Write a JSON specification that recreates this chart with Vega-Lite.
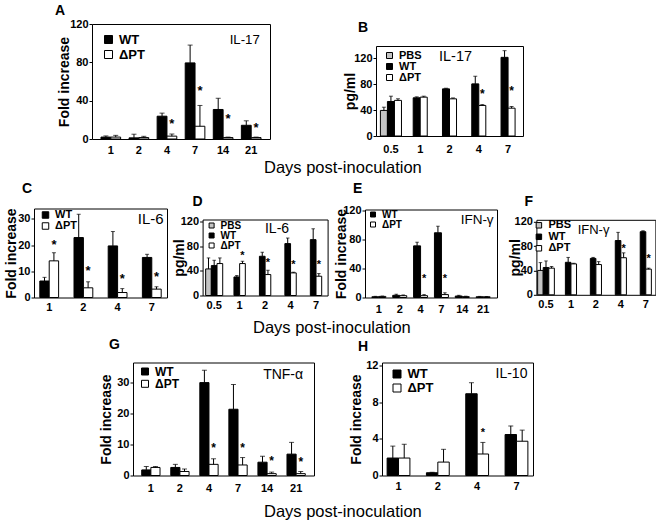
{
 "$schema": "https://vega.github.io/schema/vega-lite/v6.json",
 "padding": {"left": 3, "top": 3, "right": 0, "bottom": 0},
 "background": "white",
 "config": {
  "font": "Liberation Sans",
  "view": {"stroke": "black", "strokeWidth": 1},
  "axis": {"grid": false, "domain": false, "tickColor": "black", "labelColor": "black", "labelFont": "Liberation Sans", "labelFontWeight": "bold", "labelFontSize": 11, "titleFont": "Liberation Sans", "titleFontWeight": "bold", "titleFontSize": 14, "titleColor": "black", "tickSize": 3, "labelPadding": 1},
  "title": {"font": "Liberation Sans", "fontSize": 14, "fontWeight": "bold", "color": "black", "anchor": "start", "frame": "group"},
  "legend": {"title": null, "orient": "top-left", "padding": 0, "symbolType": "square", "symbolStrokeColor": "black", "symbolStrokeWidth": 1, "labelFont": "Liberation Sans", "labelFontWeight": "bold", "labelColor": "black", "labelOffset": 4},
  "text": {"font": "Liberation Sans", "color": "black"}
 },
 "datasets": {
  "dA": [
   {"day":"1","group":"WT","value":2,"err":3.2},
   {"day":"1","group":"ΔPT","value":2,"err":3.8},
   {"day":"2","group":"WT","value":1.2,"err":5},
   {"day":"2","group":"ΔPT","value":1.5,"err":2.8},
   {"day":"4","group":"WT","value":23.8,"err":27},
   {"day":"4","group":"ΔPT","value":3,"err":5.2,"star":19},
   {"day":"7","group":"WT","value":79.4,"err":98},
   {"day":"7","group":"ΔPT","value":13.3,"err":35,"star":53},
   {"day":"14","group":"WT","value":30.8,"err":42.5},
   {"day":"14","group":"ΔPT","value":1.5,"err":2,"star":24.5},
   {"day":"21","group":"WT","value":14.3,"err":19},
   {"day":"21","group":"ΔPT","value":1.5,"err":2,"star":14.5}
  ],
  "dB": [
   {"day":"0.5","group":"PBS","value":39.5,"err":44.5},
   {"day":"0.5","group":"WT","value":53.3,"err":61.5},
   {"day":"0.5","group":"ΔPT","value":55,"err":57.5},
   {"day":"1","group":"WT","value":59,"err":60.5},
   {"day":"1","group":"ΔPT","value":60,"err":61.5},
   {"day":"2","group":"WT","value":72.8,"err":73.8},
   {"day":"2","group":"ΔPT","value":57.4,"err":58.8},
   {"day":"4","group":"WT","value":80.5,"err":92.3},
   {"day":"4","group":"ΔPT","value":47.2,"err":48.5,"star":70},
   {"day":"7","group":"WT","value":121.5,"err":131.8},
   {"day":"7","group":"ΔPT","value":43,"err":45.6,"star":74}
  ],
  "dC": [
   {"day":"1","group":"WT","value":6.3,"err":7.7},
   {"day":"1","group":"ΔPT","value":14,"err":17.1,"star":21.3},
   {"day":"2","group":"WT","value":22.9,"err":31.8},
   {"day":"2","group":"ΔPT","value":3.7,"err":6,"star":11.1},
   {"day":"4","group":"WT","value":19.7,"err":25.2},
   {"day":"4","group":"ΔPT","value":1.9,"err":3.4,"star":8.3},
   {"day":"7","group":"WT","value":15.3,"err":16.5},
   {"day":"7","group":"ΔPT","value":3.2,"err":4.1,"star":8.8}
  ],
  "dD": [
   {"day":"0.5","group":"PBS","value":43,"err":60.8},
   {"day":"0.5","group":"WT","value":48.4,"err":57},
   {"day":"0.5","group":"ΔPT","value":51.7,"err":60.8},
   {"day":"1","group":"WT","value":30,"err":32.3},
   {"day":"1","group":"ΔPT","value":51.7,"err":55.4,"star":69},
   {"day":"2","group":"WT","value":63.5,"err":70},
   {"day":"2","group":"ΔPT","value":33.9,"err":40.9,"star":58},
   {"day":"4","group":"WT","value":84,"err":93},
   {"day":"4","group":"ΔPT","value":36.6,"err":37.7,"star":55},
   {"day":"7","group":"WT","value":90.4,"err":108},
   {"day":"7","group":"ΔPT","value":31.2,"err":35.5,"star":54}
  ],
  "dE": [
   {"day":"1","group":"WT","value":1,"err":1.6},
   {"day":"1","group":"ΔPT","value":1.5,"err":2},
   {"day":"2","group":"WT","value":3,"err":4.5},
   {"day":"2","group":"ΔPT","value":2.5,"err":3.5},
   {"day":"4","group":"WT","value":71,"err":76},
   {"day":"4","group":"ΔPT","value":2.5,"err":4,"star":30},
   {"day":"7","group":"WT","value":89,"err":98},
   {"day":"7","group":"ΔPT","value":4,"err":6.5,"star":30},
   {"day":"14","group":"WT","value":2,"err":3},
   {"day":"14","group":"ΔPT","value":1.2,"err":1.8},
   {"day":"21","group":"WT","value":1,"err":1.5},
   {"day":"21","group":"ΔPT","value":1,"err":1.4}
  ],
  "dF": [
   {"day":"0.5","group":"PBS","value":40,"err":52.8},
   {"day":"0.5","group":"WT","value":44.8,"err":55.5},
   {"day":"0.5","group":"ΔPT","value":43.7,"err":46.4},
   {"day":"1","group":"WT","value":53.3,"err":61.3},
   {"day":"1","group":"ΔPT","value":50.7,"err":51.7},
   {"day":"2","group":"WT","value":59.7,"err":61.3},
   {"day":"2","group":"ΔPT","value":49.6,"err":54.4},
   {"day":"4","group":"WT","value":89,"err":102.4},
   {"day":"4","group":"ΔPT","value":60.8,"err":68.8,"star":80.5},
   {"day":"7","group":"WT","value":103.5,"err":105},
   {"day":"7","group":"ΔPT","value":42.1,"err":43.7,"star":63.5}
  ],
  "dG": [
   {"day":"1","group":"WT","value":1.8,"err":2.9},
   {"day":"1","group":"ΔPT","value":2.6,"err":2.9},
   {"day":"2","group":"WT","value":2.6,"err":3.6},
   {"day":"2","group":"ΔPT","value":1.3,"err":2.1},
   {"day":"4","group":"WT","value":30,"err":34},
   {"day":"4","group":"ΔPT","value":3.6,"err":5.4,"star":9.9},
   {"day":"7","group":"WT","value":21.4,"err":29.4},
   {"day":"7","group":"ΔPT","value":3.4,"err":5.8,"star":9.9},
   {"day":"14","group":"WT","value":4.3,"err":6.2},
   {"day":"14","group":"ΔPT","value":0.6,"err":1.1,"star":5.6},
   {"day":"21","group":"WT","value":6.9,"err":10.7},
   {"day":"21","group":"ΔPT","value":0.6,"err":1.3,"star":5.4}
  ],
  "dH": [
   {"day":"1","group":"WT","value":1.9,"err":3.2},
   {"day":"1","group":"ΔPT","value":1.9,"err":3.4},
   {"day":"2","group":"WT","value":0.3,"err":0.35},
   {"day":"2","group":"ΔPT","value":1.46,"err":2.85},
   {"day":"4","group":"WT","value":8.9,"err":10.1},
   {"day":"4","group":"ΔPT","value":2.34,"err":3.6,"star":4.9},
   {"day":"7","group":"WT","value":4.46,"err":5.4},
   {"day":"7","group":"ΔPT","value":3.73,"err":4.94}
  ]
 },
 "resolve": {"scale": {"fill": "independent", "xOffset": "independent", "x": "independent", "y": "independent"}, "legend": {"fill": "independent"}},
 "spacing": -0.5,
 "vconcat": [
  {
   "spacing": 4.5,
   "resolve": {"scale": {"fill": "independent", "xOffset": "independent", "x": "independent", "y": "independent"}, "legend": {"fill": "independent"}},
   "vconcat": [
    {
     "spacing": 0,
     "resolve": {"scale": {"fill": "independent", "xOffset": "independent", "x": "independent", "y": "independent"}, "legend": {"fill": "independent"}},
     "title": {"text": "Days post-inoculation", "orient": "bottom", "anchor": "start", "dx": 230, "offset": 4, "fontSize": 16.5, "fontWeight": "normal"},
     "hconcat": [
      {"width": 20, "height": 1, "data": {"values": [{"s": 0}]}, "mark": {"type": "point", "opacity": 0}, "encoding": {}, "view": {"stroke": null}},
      {
       "spacing": 71,
       "resolve": {"scale": {"fill": "independent", "xOffset": "independent", "x": "independent", "y": "independent"}, "legend": {"fill": "independent"}},
       "hconcat": [
        {
         "title": {"text": "A", "dx": -37, "offset": 0.5},
         "width": 178, "height": 115,
         "data": {"name": "dA"},
         "encoding": {
          "x": {"field": "day", "type": "nominal", "scale": {"domain": ["1","2","4","7","14","21"], "paddingInner": 0.3, "paddingOuter": 0.32}, "axis": {"title": null, "labelAngle": 0, "ticks": false, "tickSize": 0, "labelPadding": 5}},
          "y": {"field": "value", "type": "quantitative", "title": "Fold increase", "scale": {"domain": [0, 120], "nice": false}, "axis": {"values": [0, 40, 80, 120], "titleX": -21}}
         },
         "layer": [
          {"mark": {"type": "bar", "stroke": "black", "strokeWidth": 1},
           "encoding": {
            "xOffset": {"field": "group", "type": "nominal", "scale": {"domain": ["WT","ΔPT"], "paddingInner": 0, "paddingOuter": 0}},
            "fill": {"field": "group", "type": "nominal", "scale": {"domain": ["WT","ΔPT"], "range": ["black","white"]}, "legend": {"offset": 9, "symbolOffset": 1, "symbolSize": 64, "labelFontSize": 13, "rowPadding": 1}}
           }},
          {"mark": {"type": "rule", "color": "black", "strokeWidth": 1},
           "encoding": {"xOffset": {"field": "group", "type": "nominal"}, "y2": {"field": "err"}}},
          {"mark": {"type": "tick", "color": "black", "thickness": 1, "size": 5, "orient": "horizontal"},
           "encoding": {"xOffset": {"field": "group", "type": "nominal"}, "y": {"field": "err", "type": "quantitative", "title": "Fold increase"}}},
          {"transform": [{"filter": "isValid(datum.star)"}],
           "mark": {"type": "text", "text": "*", "fontSize": 13, "fontWeight": "bold", "baseline": "middle", "dy": 3},
           "encoding": {"xOffset": {"field": "group", "type": "nominal"}, "y": {"field": "star", "type": "quantitative", "title": "Fold increase"}}},
          {"transform": [{"filter": "datum.day == '21' && datum.group == 'WT'"}],
           "mark": {"type": "text", "text": "IL-17", "fontSize": 13.2, "dx": -6.5, "baseline": "middle"},
           "encoding": {"y": {"datum": 103}}}
         ]
        },
        {"spacing": -5,
         "resolve": {"scale": {"fill": "independent", "xOffset": "independent", "x": "independent", "y": "independent"}, "legend": {"fill": "independent"}},
         "vconcat": [
        {"width": 1, "height": 1, "data": {"values": []}, "mark": "rect", "encoding": {}, "view": {"stroke": null}},
        {
         "title": {"text": "B", "dx": -18, "offset": 11},
         "width": 147, "height": 90,
         "data": {"name": "dB"},
         "resolve": {"scale": {"xOffset": "independent"}},
         "encoding": {
          "x": {"field": "day", "type": "nominal", "scale": {"domain": ["0.5","1","2","4","7"], "paddingInner": 0.28, "paddingOuter": 0.15}, "axis": {"title": null, "labelAngle": 0, "ticks": false, "tickSize": 0, "labelPadding": 7}},
          "y": {"field": "value", "type": "quantitative", "title": "pg/ml", "scale": {"domain": [0, 139], "nice": false}, "axis": {"values": [0, 40, 80, 120], "titleX": -19}}
         },
         "layer": [
          {"transform": [{"filter": "datum.day == '0.5'"}],
           "encoding": {"xOffset": {"field": "group", "type": "nominal", "scale": {"domain": ["PBS","WT","ΔPT"], "paddingInner": 0, "paddingOuter": 0}}},
           "layer": [
            {"mark": {"type": "bar", "stroke": "black", "strokeWidth": 1},
             "encoding": {"fill": {"field": "group", "type": "nominal", "scale": {"domain": ["PBS","WT","ΔPT"], "range": ["#c4c4c4","black","white"]}, "legend": {"offset": 3.5, "symbolOffset": 4, "symbolSize": 36, "labelFontSize": 11, "rowPadding": -1.5}}}},
            {"mark": {"type": "rule", "color": "black", "strokeWidth": 1}, "encoding": {"y2": {"field": "err"}}},
            {"mark": {"type": "tick", "color": "black", "thickness": 1, "size": 4, "orient": "horizontal"}, "encoding": {"y": {"field": "err", "type": "quantitative", "title": "pg/ml"}}}
           ]},
          {"transform": [{"filter": "datum.day != '0.5'"}],
           "encoding": {"xOffset": {"field": "group", "type": "nominal", "scale": {"domain": ["WT","ΔPT"], "paddingInner": 0, "paddingOuter": 0.5}}},
           "layer": [
            {"mark": {"type": "bar", "stroke": "black", "strokeWidth": 1},
             "encoding": {"fill": {"field": "group", "type": "nominal", "scale": {"domain": ["PBS","WT","ΔPT"], "range": ["#c4c4c4","black","white"]}, "legend": {"offset": 3.5, "symbolOffset": 4, "symbolSize": 36, "labelFontSize": 11, "rowPadding": -1.5}}}},
            {"mark": {"type": "rule", "color": "black", "strokeWidth": 1}, "encoding": {"y2": {"field": "err"}}},
            {"mark": {"type": "tick", "color": "black", "thickness": 1, "size": 4, "orient": "horizontal"}, "encoding": {"y": {"field": "err", "type": "quantitative", "title": "pg/ml"}}},
            {"transform": [{"filter": "isValid(datum.star)"}],
             "mark": {"type": "text", "text": "*", "fontSize": 12, "fontWeight": "bold", "baseline": "middle", "dy": 3},
             "encoding": {"y": {"field": "star", "type": "quantitative", "title": "pg/ml"}}}
           ]},
          {"transform": [{"filter": "datum.day == '2' && datum.group == 'WT'"}],
           "mark": {"type": "text", "text": "IL-17", "fontSize": 14.5, "dx": 6, "baseline": "middle"},
           "encoding": {"y": {"datum": 122}}}
         ]
        }]}
       ]
      }
     ]
    },
    {
     "spacing": 4,
     "resolve": {"scale": {"fill": "independent", "xOffset": "independent", "x": "independent", "y": "independent"}, "legend": {"fill": "independent"}},
     "title": {"text": "Days post-inoculation", "orient": "bottom", "anchor": "start", "dx": 219, "offset": 5, "fontSize": 16.5, "fontWeight": "normal"},
     "hconcat": [
      {
       "spacing": 3.6,
       "resolve": {"scale": {"fill": "independent", "xOffset": "independent", "x": "independent", "y": "independent"}, "legend": {"fill": "independent"}},
       "hconcat": [
        {
         "title": {"text": "C", "dx": -12, "offset": 12},
         "width": 133, "height": 89,
         "data": {"name": "dC"},
         "encoding": {
          "x": {"field": "day", "type": "nominal", "scale": {"domain": ["1","2","4","7"], "paddingInner": 0.45, "paddingOuter": 0.17}, "axis": {"title": null, "labelAngle": 0, "ticks": false, "tickSize": 0, "labelPadding": 4}},
          "y": {"field": "value", "type": "quantitative", "title": "Fold increase", "scale": {"domain": [0, 34], "nice": false}, "axis": {"values": [0, 10, 20, 30], "titleX": -16}}
         },
         "layer": [
          {"mark": {"type": "bar", "stroke": "black", "strokeWidth": 1},
           "encoding": {
            "xOffset": {"field": "group", "type": "nominal", "scale": {"domain": ["WT","ΔPT"], "paddingInner": 0, "paddingOuter": 0}},
            "fill": {"field": "group", "type": "nominal", "scale": {"domain": ["WT","ΔPT"], "range": ["black","white"]}, "legend": {"offset": 1, "symbolOffset": 5, "symbolSize": 42, "labelFontSize": 11, "rowPadding": -1.5}}
           }},
          {"mark": {"type": "rule", "color": "black", "strokeWidth": 1},
           "encoding": {"xOffset": {"field": "group", "type": "nominal"}, "y2": {"field": "err"}}},
          {"mark": {"type": "tick", "color": "black", "thickness": 1, "size": 4, "orient": "horizontal"},
           "encoding": {"xOffset": {"field": "group", "type": "nominal"}, "y": {"field": "err", "type": "quantitative", "title": "Fold increase"}}},
          {"transform": [{"filter": "isValid(datum.star)"}],
           "mark": {"type": "text", "text": "*", "fontSize": 13, "fontWeight": "bold", "baseline": "middle", "dy": 3},
           "encoding": {"xOffset": {"field": "group", "type": "nominal"}, "y": {"field": "star", "type": "quantitative", "title": "Fold increase"}}},
          {"transform": [{"filter": "datum.day == '7' && datum.group == 'WT'"}],
           "mark": {"type": "text", "text": "IL-6", "fontSize": 15, "dx": -1, "baseline": "middle"},
           "encoding": {"y": {"datum": 30}}}
         ]
        },
        {"spacing": -15,
         "resolve": {"scale": {"fill": "independent", "xOffset": "independent", "x": "independent", "y": "independent"}, "legend": {"fill": "independent"}},
         "vconcat": [
        {"width": 1, "height": 1, "data": {"values": []}, "mark": "rect", "encoding": {}, "view": {"stroke": null}},
        {
         "title": {"text": "D", "dx": -10, "offset": 6},
         "width": 125, "height": 76,
         "data": {"name": "dD"},
         "resolve": {"scale": {"xOffset": "independent"}},
         "encoding": {
          "x": {"field": "day", "type": "nominal", "scale": {"domain": ["0.5","1","2","4","7"], "paddingInner": 0.33, "paddingOuter": 0.12}, "axis": {"title": null, "labelAngle": 0, "ticks": false, "tickSize": 0, "labelPadding": 4}},
          "y": {"field": "value", "type": "quantitative", "title": "pg/ml", "scale": {"domain": [0, 123], "nice": false}, "axis": {"values": [0, 40, 80, 120], "titleX": -16}}
         },
         "layer": [
          {"transform": [{"filter": "datum.day == '0.5'"}],
           "encoding": {"xOffset": {"field": "group", "type": "nominal", "scale": {"domain": ["PBS","WT","ΔPT"], "paddingInner": 0, "paddingOuter": 0}}},
           "layer": [
            {"mark": {"type": "bar", "stroke": "black", "strokeWidth": 1},
             "encoding": {"fill": {"field": "group", "type": "nominal", "scale": {"domain": ["PBS","WT","ΔPT"], "range": ["#c4c4c4","black","white"]}, "legend": {"offset": 0.5, "symbolOffset": 3, "symbolSize": 25, "labelFontSize": 10, "rowPadding": -1.5}}}},
            {"mark": {"type": "rule", "color": "black", "strokeWidth": 1}, "encoding": {"y2": {"field": "err"}}},
            {"mark": {"type": "tick", "color": "black", "thickness": 1, "size": 3.5, "orient": "horizontal"}, "encoding": {"y": {"field": "err", "type": "quantitative", "title": "pg/ml"}}}
           ]},
          {"transform": [{"filter": "datum.day != '0.5'"}],
           "encoding": {"xOffset": {"field": "group", "type": "nominal", "scale": {"domain": ["WT","ΔPT"], "paddingInner": 0, "paddingOuter": 0.5}}},
           "layer": [
            {"mark": {"type": "bar", "stroke": "black", "strokeWidth": 1},
             "encoding": {"fill": {"field": "group", "type": "nominal", "scale": {"domain": ["PBS","WT","ΔPT"], "range": ["#c4c4c4","black","white"]}, "legend": {"offset": 0.5, "symbolOffset": 3, "symbolSize": 25, "labelFontSize": 10, "rowPadding": -1.5}}}},
            {"mark": {"type": "rule", "color": "black", "strokeWidth": 1}, "encoding": {"y2": {"field": "err"}}},
            {"mark": {"type": "tick", "color": "black", "thickness": 1, "size": 3.5, "orient": "horizontal"}, "encoding": {"y": {"field": "err", "type": "quantitative", "title": "pg/ml"}}},
            {"transform": [{"filter": "isValid(datum.star)"}],
             "mark": {"type": "text", "text": "*", "fontSize": 11, "fontWeight": "bold", "baseline": "middle", "dy": 3},
             "encoding": {"y": {"field": "star", "type": "quantitative", "title": "pg/ml"}}},
            {"transform": [{"filter": "datum.day == '4' && datum.group == 'WT'"}],
             "mark": {"type": "text", "text": "IL-6", "fontSize": 14, "dx": -5, "baseline": "middle"},
             "encoding": {"xOffset": {"value": 0}, "y": {"datum": 108}}}
           ]}
         ]
        }]}
       ]
      },
      {
       "spacing": 9.4,
       "resolve": {"scale": {"fill": "independent", "xOffset": "independent", "x": "independent", "y": "independent"}, "legend": {"fill": "independent"}},
       "hconcat": [
        {"spacing": -28.8,
         "resolve": {"scale": {"fill": "independent", "xOffset": "independent", "x": "independent", "y": "independent"}, "legend": {"fill": "independent"}},
         "vconcat": [
        {"width": 1, "height": 1, "data": {"values": []}, "mark": "rect", "encoding": {}, "view": {"stroke": null}},
        {
         "title": {"text": "E", "dx": -12, "offset": 8},
         "width": 132, "height": 88,
         "data": {"name": "dE"},
         "encoding": {
          "x": {"field": "day", "type": "nominal", "scale": {"domain": ["1","2","4","7","14","21"], "paddingInner": 0.33, "paddingOuter": 0.33}, "axis": {"title": null, "labelAngle": 0, "ticks": false, "tickSize": 0, "labelPadding": 6}},
          "y": {"field": "value", "type": "quantitative", "title": "Fold increase", "scale": {"domain": [0, 121], "nice": false}, "axis": {"values": [0, 40, 80, 120], "titleX": -17}}
         },
         "layer": [
          {"mark": {"type": "bar", "stroke": "black", "strokeWidth": 1},
           "encoding": {
            "xOffset": {"field": "group", "type": "nominal", "scale": {"domain": ["WT","ΔPT"], "paddingInner": 0, "paddingOuter": 0}},
            "fill": {"field": "group", "type": "nominal", "scale": {"domain": ["WT","ΔPT"], "range": ["black","white"]}, "legend": {"offset": 0, "symbolOffset": 3, "symbolSize": 25, "labelFontSize": 10, "rowPadding": 0}}
           }},
          {"mark": {"type": "rule", "color": "black", "strokeWidth": 1},
           "encoding": {"xOffset": {"field": "group", "type": "nominal"}, "y2": {"field": "err"}}},
          {"mark": {"type": "tick", "color": "black", "thickness": 1, "size": 3.5, "orient": "horizontal"},
           "encoding": {"xOffset": {"field": "group", "type": "nominal"}, "y": {"field": "err", "type": "quantitative", "title": "Fold increase"}}},
          {"transform": [{"filter": "isValid(datum.star)"}],
           "mark": {"type": "text", "text": "*", "fontSize": 11, "fontWeight": "bold", "baseline": "middle", "dy": 3},
           "encoding": {"xOffset": {"field": "group", "type": "nominal"}, "y": {"field": "star", "type": "quantitative", "title": "Fold increase"}}},
          {"transform": [{"filter": "datum.day == '21' && datum.group == 'WT'"}],
           "mark": {"type": "text", "text": "IFN-γ", "fontSize": 13.5, "dx": -6, "baseline": "middle"},
           "encoding": {"y": {"datum": 106}}}
         ]
        }]},
        {"spacing": -15.7,
         "resolve": {"scale": {"fill": "independent", "xOffset": "independent", "x": "independent", "y": "independent"}, "legend": {"fill": "independent"}},
         "vconcat": [
        {"width": 1, "height": 1, "data": {"values": []}, "mark": "rect", "encoding": {}, "view": {"stroke": null}},
        {
         "title": {"text": "F", "dx": -12, "offset": 7},
         "width": 119, "height": 75,
         "data": {"name": "dF"},
         "resolve": {"scale": {"xOffset": "independent"}},
         "encoding": {
          "x": {"field": "day", "type": "nominal", "scale": {"domain": ["0.5","1","2","4","7"], "paddingInner": 0.33, "paddingOuter": 0.05}, "axis": {"title": null, "labelAngle": 0, "ticks": false, "tickSize": 0, "labelPadding": 4}},
          "y": {"field": "value", "type": "quantitative", "title": "pg/ml", "scale": {"domain": [0, 123], "nice": false}, "axis": {"values": [0, 40, 80, 120], "titleX": -14}}
         },
         "layer": [
          {"transform": [{"filter": "datum.day == '0.5'"}],
           "encoding": {"xOffset": {"field": "group", "type": "nominal", "scale": {"domain": ["PBS","WT","ΔPT"], "paddingInner": 0, "paddingOuter": 0}}},
           "layer": [
            {"mark": {"type": "bar", "stroke": "black", "strokeWidth": 1},
             "encoding": {"fill": {"field": "group", "type": "nominal", "scale": {"domain": ["PBS","WT","ΔPT"], "range": ["#c4c4c4","black","white"]}, "legend": {"offset": 0, "symbolOffset": -3, "symbolSize": 30, "labelFontSize": 11, "rowPadding": -0.5}}}},
            {"mark": {"type": "rule", "color": "black", "strokeWidth": 1}, "encoding": {"y2": {"field": "err"}}},
            {"mark": {"type": "tick", "color": "black", "thickness": 1, "size": 3.5, "orient": "horizontal"}, "encoding": {"y": {"field": "err", "type": "quantitative", "title": "pg/ml"}}}
           ]},
          {"transform": [{"filter": "datum.day != '0.5'"}],
           "encoding": {"xOffset": {"field": "group", "type": "nominal", "scale": {"domain": ["WT","ΔPT"], "paddingInner": 0, "paddingOuter": 0.5}}},
           "layer": [
            {"mark": {"type": "bar", "stroke": "black", "strokeWidth": 1},
             "encoding": {"fill": {"field": "group", "type": "nominal", "scale": {"domain": ["PBS","WT","ΔPT"], "range": ["#c4c4c4","black","white"]}, "legend": {"offset": 0, "symbolOffset": -3, "symbolSize": 30, "labelFontSize": 11, "rowPadding": -0.5}}}},
            {"mark": {"type": "rule", "color": "black", "strokeWidth": 1}, "encoding": {"y2": {"field": "err"}}},
            {"mark": {"type": "tick", "color": "black", "thickness": 1, "size": 3.5, "orient": "horizontal"}, "encoding": {"y": {"field": "err", "type": "quantitative", "title": "pg/ml"}}},
            {"transform": [{"filter": "isValid(datum.star)"}],
             "mark": {"type": "text", "text": "*", "fontSize": 11, "fontWeight": "bold", "baseline": "middle", "dy": 3},
             "encoding": {"y": {"field": "star", "type": "quantitative", "title": "pg/ml"}}},
            {"transform": [{"filter": "datum.day == '2' && datum.group == 'WT'"}],
             "mark": {"type": "text", "text": "IFN-γ", "fontSize": 13, "dx": 6, "baseline": "middle"},
             "encoding": {"xOffset": {"value": 0}, "y": {"datum": 105.6}}}
           ]}
         ]
        }]}
       ]
      }
     ]
    }
   ]
  },
  {
   "spacing": 0,
   "resolve": {"scale": {"fill": "independent", "xOffset": "independent", "x": "independent", "y": "independent"}, "legend": {"fill": "independent"}},
   "title": {"text": "Days post-inoculation", "orient": "bottom", "anchor": "start", "dx": 230, "offset": 10, "fontSize": 16.5, "fontWeight": "normal"},
   "hconcat": [
    {"width": 64, "height": 1, "data": {"values": [{"s": 0}]}, "mark": {"type": "point", "opacity": 0}, "encoding": {}, "view": {"stroke": null}},
    {
     "spacing": 33,
     "resolve": {"scale": {"fill": "independent", "xOffset": "independent", "x": "independent", "y": "independent"}, "legend": {"fill": "independent"}},
     "hconcat": [
      {
       "title": {"text": "G", "dx": -24, "offset": 11},
       "width": 181, "height": 113,
       "data": {"name": "dG"},
       "encoding": {
        "x": {"field": "day", "type": "nominal", "scale": {"domain": ["1","2","4","7","14","21"], "paddingInner": 0.37, "paddingOuter": 0.3}, "axis": {"title": null, "labelAngle": 0, "ticks": false, "tickSize": 0, "labelPadding": 7}},
        "y": {"field": "value", "type": "quantitative", "title": "Fold increase", "scale": {"domain": [0, 36.5], "nice": false}, "axis": {"values": [0, 10, 20, 30], "titleX": -20}}
       },
       "layer": [
        {"mark": {"type": "bar", "stroke": "black", "strokeWidth": 1},
         "encoding": {
          "xOffset": {"field": "group", "type": "nominal", "scale": {"domain": ["WT","ΔPT"], "paddingInner": 0, "paddingOuter": 0}},
          "fill": {"field": "group", "type": "nominal", "scale": {"domain": ["WT","ΔPT"], "range": ["black","white"]}, "legend": {"offset": 3, "symbolOffset": 3, "symbolSize": 49, "labelFontSize": 12, "rowPadding": 0.3}}
         }},
        {"mark": {"type": "rule", "color": "black", "strokeWidth": 1},
         "encoding": {"xOffset": {"field": "group", "type": "nominal"}, "y2": {"field": "err"}}},
        {"mark": {"type": "tick", "color": "black", "thickness": 1, "size": 5, "orient": "horizontal"},
         "encoding": {"xOffset": {"field": "group", "type": "nominal"}, "y": {"field": "err", "type": "quantitative", "title": "Fold increase"}}},
        {"transform": [{"filter": "isValid(datum.star)"}],
         "mark": {"type": "text", "text": "*", "fontSize": 12, "fontWeight": "bold", "baseline": "middle", "dy": 3},
         "encoding": {"xOffset": {"field": "group", "type": "nominal"}, "y": {"field": "star", "type": "quantitative", "title": "Fold increase"}}},
        {"transform": [{"filter": "datum.day == '21' && datum.group == 'WT'"}],
         "mark": {"type": "text", "text": "TNF-α", "fontSize": 14, "dx": -13, "baseline": "middle"},
         "encoding": {"y": {"datum": 32.5}}}
       ]
      },
      {
       "title": {"text": "H", "dx": -24, "offset": 5},
       "width": 151, "height": 113,
       "data": {"name": "dH"},
       "encoding": {
        "x": {"field": "day", "type": "nominal", "scale": {"domain": ["1","2","4","7"], "paddingInner": 0.42, "paddingOuter": 0.13}, "axis": {"title": null, "labelAngle": 0, "ticks": false, "tickSize": 0, "labelPadding": 5}},
        "y": {"field": "value", "type": "quantitative", "title": "Fold increase", "scale": {"domain": [0, 12.3], "nice": false}, "axis": {"values": [0, 4, 8, 12], "titleX": -19}}
       },
       "layer": [
        {"mark": {"type": "bar", "stroke": "black", "strokeWidth": 1},
         "encoding": {
          "xOffset": {"field": "group", "type": "nominal", "scale": {"domain": ["WT","ΔPT"], "paddingInner": 0, "paddingOuter": 0}},
          "fill": {"field": "group", "type": "nominal", "scale": {"domain": ["WT","ΔPT"], "range": ["black","white"]}, "legend": {"offset": 4.5, "symbolOffset": 3.5, "symbolSize": 64, "labelFontSize": 13, "rowPadding": 0}}
         }},
        {"mark": {"type": "rule", "color": "black", "strokeWidth": 1},
         "encoding": {"xOffset": {"field": "group", "type": "nominal"}, "y2": {"field": "err"}}},
        {"mark": {"type": "tick", "color": "black", "thickness": 1, "size": 5, "orient": "horizontal"},
         "encoding": {"xOffset": {"field": "group", "type": "nominal"}, "y": {"field": "err", "type": "quantitative", "title": "Fold increase"}}},
        {"transform": [{"filter": "isValid(datum.star)"}],
         "mark": {"type": "text", "text": "*", "fontSize": 11, "fontWeight": "bold", "baseline": "middle", "dy": 3},
         "encoding": {"xOffset": {"field": "group", "type": "nominal"}, "y": {"field": "star", "type": "quantitative", "title": "Fold increase"}}},
        {"transform": [{"filter": "datum.day == '7' && datum.group == 'WT'"}],
         "mark": {"type": "text", "text": "IL-10", "fontSize": 14, "dx": -5, "baseline": "middle"},
         "encoding": {"y": {"datum": 11}}}
       ]
      }
     ]
    }
   ]
  }
 ]
}
